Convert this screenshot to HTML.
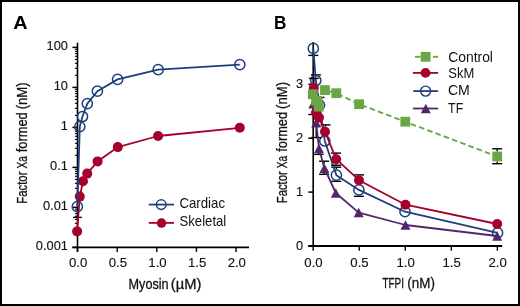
<!DOCTYPE html>
<html><head><meta charset="utf-8"><style>
html,body{margin:0;padding:0;background:#fff;}
svg{display:block;will-change:transform;}
text{font-family:"Liberation Sans", sans-serif;fill:#111;}
.tk{font-size:12.8px;stroke:#111;stroke-width:0.12px;}
.tx{font-size:13.2px;stroke:#111;stroke-width:0.12px;}
.lg{font-size:14.2px;}
.ti{font-size:15px;stroke:#111;stroke-width:0.3px;}
.pl{font-size:19px;font-weight:bold;fill:#000;}
</style></head><body>
<svg width="520" height="306" viewBox="0 0 520 306">
<rect x="0" y="0" width="520" height="306" fill="#fff"/>
<line x1="77.50" y1="42.60" x2="77.50" y2="252.00" stroke="#000" stroke-width="1.6"/>
<line x1="72.40" y1="247.40" x2="249.00" y2="247.40" stroke="#000" stroke-width="1.8"/>
<line x1="72.40" y1="247.40" x2="77.50" y2="247.40" stroke="#000" stroke-width="1.5"/>
<text x="67.9" y="250.10" text-anchor="end" class="tk">0.001</text>
<line x1="72.40" y1="207.40" x2="77.50" y2="207.40" stroke="#000" stroke-width="1.5"/>
<text x="67.9" y="210.10" text-anchor="end" class="tk">0.01</text>
<line x1="72.40" y1="167.40" x2="77.50" y2="167.40" stroke="#000" stroke-width="1.5"/>
<text x="67.9" y="170.10" text-anchor="end" class="tk">0.1</text>
<line x1="72.40" y1="127.40" x2="77.50" y2="127.40" stroke="#000" stroke-width="1.5"/>
<text x="67.9" y="130.10" text-anchor="end" class="tk">1</text>
<line x1="72.40" y1="87.40" x2="77.50" y2="87.40" stroke="#000" stroke-width="1.5"/>
<text x="67.9" y="90.10" text-anchor="end" class="tk">10</text>
<line x1="72.40" y1="47.40" x2="77.50" y2="47.40" stroke="#000" stroke-width="1.5"/>
<text x="67.9" y="50.10" text-anchor="end" class="tk">100</text>
<line x1="74.90" y1="235.36" x2="77.50" y2="235.36" stroke="#000" stroke-width="1.1"/>
<line x1="74.90" y1="228.32" x2="77.50" y2="228.32" stroke="#000" stroke-width="1.1"/>
<line x1="74.90" y1="223.32" x2="77.50" y2="223.32" stroke="#000" stroke-width="1.1"/>
<line x1="74.90" y1="219.44" x2="77.50" y2="219.44" stroke="#000" stroke-width="1.1"/>
<line x1="74.90" y1="216.27" x2="77.50" y2="216.27" stroke="#000" stroke-width="1.1"/>
<line x1="74.90" y1="213.60" x2="77.50" y2="213.60" stroke="#000" stroke-width="1.1"/>
<line x1="74.90" y1="211.28" x2="77.50" y2="211.28" stroke="#000" stroke-width="1.1"/>
<line x1="74.90" y1="209.23" x2="77.50" y2="209.23" stroke="#000" stroke-width="1.1"/>
<line x1="74.90" y1="195.36" x2="77.50" y2="195.36" stroke="#000" stroke-width="1.1"/>
<line x1="74.90" y1="188.32" x2="77.50" y2="188.32" stroke="#000" stroke-width="1.1"/>
<line x1="74.90" y1="183.32" x2="77.50" y2="183.32" stroke="#000" stroke-width="1.1"/>
<line x1="74.90" y1="179.44" x2="77.50" y2="179.44" stroke="#000" stroke-width="1.1"/>
<line x1="74.90" y1="176.27" x2="77.50" y2="176.27" stroke="#000" stroke-width="1.1"/>
<line x1="74.90" y1="173.60" x2="77.50" y2="173.60" stroke="#000" stroke-width="1.1"/>
<line x1="74.90" y1="171.28" x2="77.50" y2="171.28" stroke="#000" stroke-width="1.1"/>
<line x1="74.90" y1="169.23" x2="77.50" y2="169.23" stroke="#000" stroke-width="1.1"/>
<line x1="74.90" y1="155.36" x2="77.50" y2="155.36" stroke="#000" stroke-width="1.1"/>
<line x1="74.90" y1="148.32" x2="77.50" y2="148.32" stroke="#000" stroke-width="1.1"/>
<line x1="74.90" y1="143.32" x2="77.50" y2="143.32" stroke="#000" stroke-width="1.1"/>
<line x1="74.90" y1="139.44" x2="77.50" y2="139.44" stroke="#000" stroke-width="1.1"/>
<line x1="74.90" y1="136.27" x2="77.50" y2="136.27" stroke="#000" stroke-width="1.1"/>
<line x1="74.90" y1="133.60" x2="77.50" y2="133.60" stroke="#000" stroke-width="1.1"/>
<line x1="74.90" y1="131.28" x2="77.50" y2="131.28" stroke="#000" stroke-width="1.1"/>
<line x1="74.90" y1="129.23" x2="77.50" y2="129.23" stroke="#000" stroke-width="1.1"/>
<line x1="74.90" y1="115.36" x2="77.50" y2="115.36" stroke="#000" stroke-width="1.1"/>
<line x1="74.90" y1="108.32" x2="77.50" y2="108.32" stroke="#000" stroke-width="1.1"/>
<line x1="74.90" y1="103.32" x2="77.50" y2="103.32" stroke="#000" stroke-width="1.1"/>
<line x1="74.90" y1="99.44" x2="77.50" y2="99.44" stroke="#000" stroke-width="1.1"/>
<line x1="74.90" y1="96.27" x2="77.50" y2="96.27" stroke="#000" stroke-width="1.1"/>
<line x1="74.90" y1="93.60" x2="77.50" y2="93.60" stroke="#000" stroke-width="1.1"/>
<line x1="74.90" y1="91.28" x2="77.50" y2="91.28" stroke="#000" stroke-width="1.1"/>
<line x1="74.90" y1="89.23" x2="77.50" y2="89.23" stroke="#000" stroke-width="1.1"/>
<line x1="74.90" y1="75.36" x2="77.50" y2="75.36" stroke="#000" stroke-width="1.1"/>
<line x1="74.90" y1="68.32" x2="77.50" y2="68.32" stroke="#000" stroke-width="1.1"/>
<line x1="74.90" y1="63.32" x2="77.50" y2="63.32" stroke="#000" stroke-width="1.1"/>
<line x1="74.90" y1="59.44" x2="77.50" y2="59.44" stroke="#000" stroke-width="1.1"/>
<line x1="74.90" y1="56.27" x2="77.50" y2="56.27" stroke="#000" stroke-width="1.1"/>
<line x1="74.90" y1="53.60" x2="77.50" y2="53.60" stroke="#000" stroke-width="1.1"/>
<line x1="74.90" y1="51.28" x2="77.50" y2="51.28" stroke="#000" stroke-width="1.1"/>
<line x1="74.90" y1="49.23" x2="77.50" y2="49.23" stroke="#000" stroke-width="1.1"/>
<line x1="77.50" y1="247.40" x2="77.50" y2="251.90" stroke="#000" stroke-width="1.4"/>
<text x="78.2" y="267.0" text-anchor="middle" class="tx">0.0</text>
<line x1="117.20" y1="247.40" x2="117.20" y2="251.90" stroke="#000" stroke-width="1.4"/>
<text x="117.9" y="267.0" text-anchor="middle" class="tx">0.5</text>
<line x1="156.80" y1="247.40" x2="156.80" y2="251.90" stroke="#000" stroke-width="1.4"/>
<text x="157.5" y="267.0" text-anchor="middle" class="tx">1.0</text>
<line x1="196.45" y1="247.40" x2="196.45" y2="251.90" stroke="#000" stroke-width="1.4"/>
<text x="197.1" y="267.0" text-anchor="middle" class="tx">1.5</text>
<line x1="236.05" y1="247.40" x2="236.05" y2="251.90" stroke="#000" stroke-width="1.4"/>
<text x="236.8" y="267.0" text-anchor="middle" class="tx">2.0</text>
<line x1="73.00" y1="217.40" x2="81.80" y2="217.40" stroke="#000" stroke-width="1.4"/>
<polyline points="77.10,231.40 79.80,196.60 83.00,181.30 87.20,173.60 97.60,161.40 117.80,147.10 158.10,136.00 239.80,127.80" fill="none" stroke="#a5012c" stroke-width="1.8" stroke-linejoin="round"/>
<circle cx="77.1" cy="231.4" r="5" fill="#a5012c"/>
<circle cx="79.8" cy="196.6" r="5" fill="#a5012c"/>
<circle cx="83.0" cy="181.3" r="5" fill="#a5012c"/>
<circle cx="87.2" cy="173.6" r="5" fill="#a5012c"/>
<circle cx="97.6" cy="161.4" r="5" fill="#a5012c"/>
<circle cx="117.8" cy="147.1" r="5" fill="#a5012c"/>
<circle cx="158.1" cy="136.0" r="5" fill="#a5012c"/>
<circle cx="239.8" cy="127.8" r="5" fill="#a5012c"/>
<polyline points="77.30,206.60 79.80,126.60 82.50,116.50 87.30,103.60 97.40,91.20 117.60,79.40 158.20,69.70 239.80,64.60" fill="none" stroke="#1f3f7a" stroke-width="1.8" stroke-linejoin="round"/>
<circle cx="77.3" cy="206.6" r="5.1" fill="none" stroke="#1f3f7a" stroke-width="1.5"/>
<circle cx="79.8" cy="126.6" r="5.1" fill="none" stroke="#1f3f7a" stroke-width="1.5"/>
<circle cx="82.5" cy="116.5" r="5.1" fill="none" stroke="#1f3f7a" stroke-width="1.5"/>
<circle cx="87.3" cy="103.6" r="5.1" fill="none" stroke="#1f3f7a" stroke-width="1.5"/>
<circle cx="97.4" cy="91.2" r="5.1" fill="none" stroke="#1f3f7a" stroke-width="1.5"/>
<circle cx="117.6" cy="79.4" r="5.1" fill="none" stroke="#1f3f7a" stroke-width="1.5"/>
<circle cx="158.2" cy="69.7" r="5.1" fill="none" stroke="#1f3f7a" stroke-width="1.5"/>
<circle cx="239.8" cy="64.6" r="5.1" fill="none" stroke="#1f3f7a" stroke-width="1.5"/>
<line x1="148.80" y1="204.60" x2="174.00" y2="204.60" stroke="#1f3f7a" stroke-width="1.8"/>
<circle cx="161.2" cy="204.6" r="4.8" fill="none" stroke="#1f3f7a" stroke-width="1.45"/>
<text x="179.40" y="207.5" class="lg" textLength="45.67" lengthAdjust="spacingAndGlyphs">Cardiac</text>
<line x1="148.80" y1="222.90" x2="174.00" y2="222.90" stroke="#a5012c" stroke-width="1.8"/>
<circle cx="161.5" cy="223.1" r="4.75" fill="#a5012c"/>
<text x="179.52" y="226.0" class="lg" textLength="46.79" lengthAdjust="spacingAndGlyphs">Skeletal</text>
<text x="128.54" y="288.6" class="ti" textLength="40.11" lengthAdjust="spacingAndGlyphs">Myosin</text>
<text x="170.84" y="288.6" class="ti" textLength="30.66" lengthAdjust="spacingAndGlyphs">(µM)</text>
<g transform="translate(26.8,203.2) rotate(-90)"><text x="-0.44" y="0" class="ti" textLength="32.04" lengthAdjust="spacingAndGlyphs">Factor</text><text x="34.65" y="0" class="ti" textLength="12.34" lengthAdjust="spacingAndGlyphs">Xa</text><text x="50.99" y="0" class="ti" textLength="39.92" lengthAdjust="spacingAndGlyphs">formed</text><text x="93.83" y="0" class="ti" textLength="27.00" lengthAdjust="spacingAndGlyphs">(nM)</text></g>
<text x="13.38" y="29.0" class="pl" textLength="14.38" lengthAdjust="spacingAndGlyphs">A</text>
<text x="274.0" y="29.2" class="pl" textLength="12.4" lengthAdjust="spacingAndGlyphs">B</text>
<line x1="313.20" y1="42.00" x2="313.20" y2="246.00" stroke="#000" stroke-width="1.6"/>
<line x1="308.30" y1="246.00" x2="502.20" y2="246.00" stroke="#000" stroke-width="1.8"/>
<line x1="308.30" y1="246.00" x2="313.20" y2="246.00" stroke="#000" stroke-width="1.5"/>
<text x="303.2" y="249.90" text-anchor="end" class="tk">0</text>
<line x1="308.30" y1="192.10" x2="313.20" y2="192.10" stroke="#000" stroke-width="1.5"/>
<text x="303.2" y="196.00" text-anchor="end" class="tk">1</text>
<line x1="308.30" y1="138.20" x2="313.20" y2="138.20" stroke="#000" stroke-width="1.5"/>
<text x="303.2" y="142.10" text-anchor="end" class="tk">2</text>
<line x1="308.30" y1="84.30" x2="313.20" y2="84.30" stroke="#000" stroke-width="1.5"/>
<text x="303.2" y="88.20" text-anchor="end" class="tk">3</text>
<line x1="313.20" y1="246.00" x2="313.20" y2="250.70" stroke="#000" stroke-width="1.4"/>
<text x="313.50" y="266.6" text-anchor="middle" class="tx">0.0</text>
<line x1="359.24" y1="246.00" x2="359.24" y2="250.70" stroke="#000" stroke-width="1.4"/>
<text x="359.54" y="266.6" text-anchor="middle" class="tx">0.5</text>
<line x1="405.28" y1="246.00" x2="405.28" y2="250.70" stroke="#000" stroke-width="1.4"/>
<text x="405.58" y="266.6" text-anchor="middle" class="tx">1.0</text>
<line x1="451.32" y1="246.00" x2="451.32" y2="250.70" stroke="#000" stroke-width="1.4"/>
<text x="451.62" y="266.6" text-anchor="middle" class="tx">1.5</text>
<line x1="497.36" y1="246.00" x2="497.36" y2="250.70" stroke="#000" stroke-width="1.4"/>
<text x="497.66" y="266.6" text-anchor="middle" class="tx">2.0</text>
<text x="382.45" y="288.1" class="ti" textLength="21.56" lengthAdjust="spacingAndGlyphs">TFPI</text>
<text x="407.32" y="288.1" class="ti" textLength="27.53" lengthAdjust="spacingAndGlyphs">(nM)</text>
<g transform="translate(287.0,202.8) rotate(-90)"><text x="-0.44" y="0" class="ti" textLength="32.04" lengthAdjust="spacingAndGlyphs">Factor</text><text x="34.65" y="0" class="ti" textLength="12.34" lengthAdjust="spacingAndGlyphs">Xa</text><text x="50.99" y="0" class="ti" textLength="39.92" lengthAdjust="spacingAndGlyphs">formed</text><text x="93.83" y="0" class="ti" textLength="27.00" lengthAdjust="spacingAndGlyphs">(nM)</text></g>
<line x1="313.30" y1="54.25" x2="313.30" y2="55.40" stroke="#000" stroke-width="1.4"/><line x1="308.30" y1="55.40" x2="318.30" y2="55.40" stroke="#000" stroke-width="1.4"/>
<line x1="310.90" y1="74.90" x2="320.90" y2="74.90" stroke="#000" stroke-width="1.4"/>
<line x1="319.50" y1="99.35" x2="319.50" y2="97.40" stroke="#000" stroke-width="1.4"/><line x1="314.50" y1="97.40" x2="324.50" y2="97.40" stroke="#000" stroke-width="1.4"/>
<line x1="336.30" y1="169.35" x2="336.30" y2="167.20" stroke="#000" stroke-width="1.4"/><line x1="331.30" y1="167.20" x2="341.30" y2="167.20" stroke="#000" stroke-width="1.4"/><line x1="336.30" y1="181.05" x2="336.30" y2="181.30" stroke="#000" stroke-width="1.4"/><line x1="331.30" y1="181.30" x2="341.30" y2="181.30" stroke="#000" stroke-width="1.4"/>
<line x1="358.90" y1="195.75" x2="358.90" y2="196.30" stroke="#000" stroke-width="1.4"/><line x1="353.90" y1="196.30" x2="363.90" y2="196.30" stroke="#000" stroke-width="1.4"/>
<polyline points="313.30,48.40 315.80,80.50 319.50,105.20 324.80,141.00 336.40,175.20 358.90,189.90 405.00,211.70 497.60,232.80" fill="none" stroke="#1f3f7a" stroke-width="1.8" stroke-linejoin="round"/>
<circle cx="313.3" cy="48.4" r="5.1" fill="none" stroke="#1f3f7a" stroke-width="1.5"/>
<circle cx="315.8" cy="80.5" r="5.1" fill="none" stroke="#1f3f7a" stroke-width="1.5"/>
<circle cx="319.5" cy="105.2" r="5.1" fill="none" stroke="#1f3f7a" stroke-width="1.5"/>
<circle cx="324.8" cy="141.0" r="5.1" fill="none" stroke="#1f3f7a" stroke-width="1.5"/>
<circle cx="336.4" cy="175.2" r="5.1" fill="none" stroke="#1f3f7a" stroke-width="1.5"/>
<circle cx="358.9" cy="189.9" r="5.1" fill="none" stroke="#1f3f7a" stroke-width="1.5"/>
<circle cx="405.0" cy="211.7" r="5.1" fill="none" stroke="#1f3f7a" stroke-width="1.5"/>
<circle cx="497.6" cy="232.8" r="5.1" fill="none" stroke="#1f3f7a" stroke-width="1.5"/>
<line x1="313.30" y1="108.55" x2="313.30" y2="114.50" stroke="#000" stroke-width="1.4"/><line x1="308.30" y1="114.50" x2="318.30" y2="114.50" stroke="#000" stroke-width="1.4"/>
<line x1="316.20" y1="127.55" x2="316.20" y2="137.60" stroke="#000" stroke-width="1.4"/><line x1="311.20" y1="137.60" x2="321.20" y2="137.60" stroke="#000" stroke-width="1.4"/>
<line x1="318.60" y1="153.15" x2="318.60" y2="154.40" stroke="#000" stroke-width="1.4"/><line x1="313.60" y1="154.40" x2="323.60" y2="154.40" stroke="#000" stroke-width="1.4"/>
<line x1="324.10" y1="163.45" x2="324.10" y2="161.20" stroke="#000" stroke-width="1.4"/><line x1="319.10" y1="161.20" x2="329.10" y2="161.20" stroke="#000" stroke-width="1.4"/><line x1="324.10" y1="172.95" x2="324.10" y2="174.30" stroke="#000" stroke-width="1.4"/><line x1="319.10" y1="174.30" x2="329.10" y2="174.30" stroke="#000" stroke-width="1.4"/>
<polyline points="313.30,103.80 316.20,122.80 319.00,148.40 324.40,168.20 335.80,193.00 358.70,212.60 405.50,225.00 497.20,236.00" fill="none" stroke="#52276a" stroke-width="1.8" stroke-linejoin="round"/>
<polygon points="308.30,108.55 318.30,108.55 313.30,99.05" fill="#52276a"/>
<polygon points="311.20,127.55 321.20,127.55 316.20,118.05" fill="#52276a"/>
<polygon points="314.00,153.15 324.00,153.15 319.00,143.65" fill="#52276a"/>
<polygon points="319.40,172.95 329.40,172.95 324.40,163.45" fill="#52276a"/>
<polygon points="330.80,197.75 340.80,197.75 335.80,188.25" fill="#52276a"/>
<polygon points="353.70,217.35 363.70,217.35 358.70,207.85" fill="#52276a"/>
<polygon points="400.50,229.75 410.50,229.75 405.50,220.25" fill="#52276a"/>
<polygon points="492.20,240.75 502.20,240.75 497.20,231.25" fill="#52276a"/>
<line x1="313.80" y1="83.10" x2="313.80" y2="78.40" stroke="#000" stroke-width="1.4"/><line x1="308.80" y1="78.40" x2="318.80" y2="78.40" stroke="#000" stroke-width="1.4"/>
<line x1="325.50" y1="126.70" x2="325.50" y2="124.90" stroke="#000" stroke-width="1.4"/><line x1="320.50" y1="124.90" x2="330.50" y2="124.90" stroke="#000" stroke-width="1.4"/>
<line x1="336.10" y1="154.20" x2="336.10" y2="153.10" stroke="#000" stroke-width="1.4"/><line x1="331.10" y1="153.10" x2="341.10" y2="153.10" stroke="#000" stroke-width="1.4"/><line x1="336.10" y1="164.20" x2="336.10" y2="165.30" stroke="#000" stroke-width="1.4"/><line x1="331.10" y1="165.30" x2="341.10" y2="165.30" stroke="#000" stroke-width="1.4"/>
<line x1="359.00" y1="175.20" x2="359.00" y2="174.90" stroke="#000" stroke-width="1.4"/><line x1="354.00" y1="174.90" x2="364.00" y2="174.90" stroke="#000" stroke-width="1.4"/>
<polyline points="313.80,88.10 316.00,112.70 319.00,117.50 325.00,131.70 336.20,159.20 359.00,180.20 405.50,204.70 497.20,224.00" fill="none" stroke="#a5012c" stroke-width="1.8" stroke-linejoin="round"/>
<circle cx="313.8" cy="88.1" r="5" fill="#a5012c"/>
<circle cx="316.0" cy="112.7" r="5" fill="#a5012c"/>
<circle cx="319.0" cy="117.5" r="5" fill="#a5012c"/>
<circle cx="325.0" cy="131.7" r="5" fill="#a5012c"/>
<circle cx="336.2" cy="159.2" r="5" fill="#a5012c"/>
<circle cx="359.0" cy="180.2" r="5" fill="#a5012c"/>
<circle cx="405.5" cy="204.7" r="5" fill="#a5012c"/>
<circle cx="497.2" cy="224.0" r="5" fill="#a5012c"/>
<line x1="497.20" y1="151.60" x2="497.20" y2="148.80" stroke="#000" stroke-width="1.4"/><line x1="492.20" y1="148.80" x2="502.20" y2="148.80" stroke="#000" stroke-width="1.4"/><line x1="497.20" y1="161.40" x2="497.20" y2="163.70" stroke="#000" stroke-width="1.4"/><line x1="492.20" y1="163.70" x2="502.20" y2="163.70" stroke="#000" stroke-width="1.4"/>
<polyline points="312.80,94.20 316.10,100.80 318.70,106.60 325.00,90.10 336.30,93.20 359.10,104.20 405.30,121.70 497.20,156.50" fill="none" stroke="#6ba644" stroke-width="1.9" stroke-dasharray="5.6 3.20" stroke-dashoffset="8.29" stroke-linejoin="round"/>
<rect x="307.90" y="89.30" width="9.8" height="9.8" fill="#6ba644"/>
<rect x="311.20" y="95.90" width="9.8" height="9.8" fill="#6ba644"/>
<rect x="313.80" y="101.70" width="9.8" height="9.8" fill="#6ba644"/>
<rect x="320.10" y="85.20" width="9.8" height="9.8" fill="#6ba644"/>
<rect x="331.40" y="88.30" width="9.8" height="9.8" fill="#6ba644"/>
<rect x="354.20" y="99.30" width="9.8" height="9.8" fill="#6ba644"/>
<rect x="400.40" y="116.80" width="9.8" height="9.8" fill="#6ba644"/>
<rect x="492.30" y="151.60" width="9.8" height="9.8" fill="#6ba644"/>
<line x1="415.00" y1="56.80" x2="420.50" y2="56.80" stroke="#6ba644" stroke-width="1.9"/>
<line x1="432.90" y1="56.80" x2="438.10" y2="56.80" stroke="#6ba644" stroke-width="1.9"/>
<rect x="420.7" y="51.9" width="9.8" height="9.8" fill="#6ba644"/>
<line x1="412.90" y1="72.90" x2="438.10" y2="72.90" stroke="#a5012c" stroke-width="1.8"/>
<circle cx="425.5" cy="72.9" r="4.9" fill="#a5012c"/>
<line x1="413.30" y1="91.10" x2="438.10" y2="91.10" stroke="#1f3f7a" stroke-width="1.8"/>
<circle cx="425.6" cy="91.1" r="5.0" fill="none" stroke="#1f3f7a" stroke-width="1.45"/>
<line x1="412.90" y1="108.50" x2="438.10" y2="108.50" stroke="#52276a" stroke-width="1.8"/>
<polygon points="420.80,113.35 430.80,113.35 425.80,103.85" fill="#52276a"/>
<text x="448.17" y="62.0" class="lg" textLength="44.81" lengthAdjust="spacingAndGlyphs">Control</text>
<text x="448.33" y="77.9" class="lg" textLength="26.00" lengthAdjust="spacingAndGlyphs">SkM</text>
<text x="447.95" y="95.4" class="lg" textLength="21.94" lengthAdjust="spacingAndGlyphs">CM</text>
<text x="448.07" y="113.0" class="lg" textLength="15.15" lengthAdjust="spacingAndGlyphs">TF</text>
<rect x="1" y="1" width="518" height="304" fill="none" stroke="#000" stroke-width="2"/>
</svg>
</body></html>
